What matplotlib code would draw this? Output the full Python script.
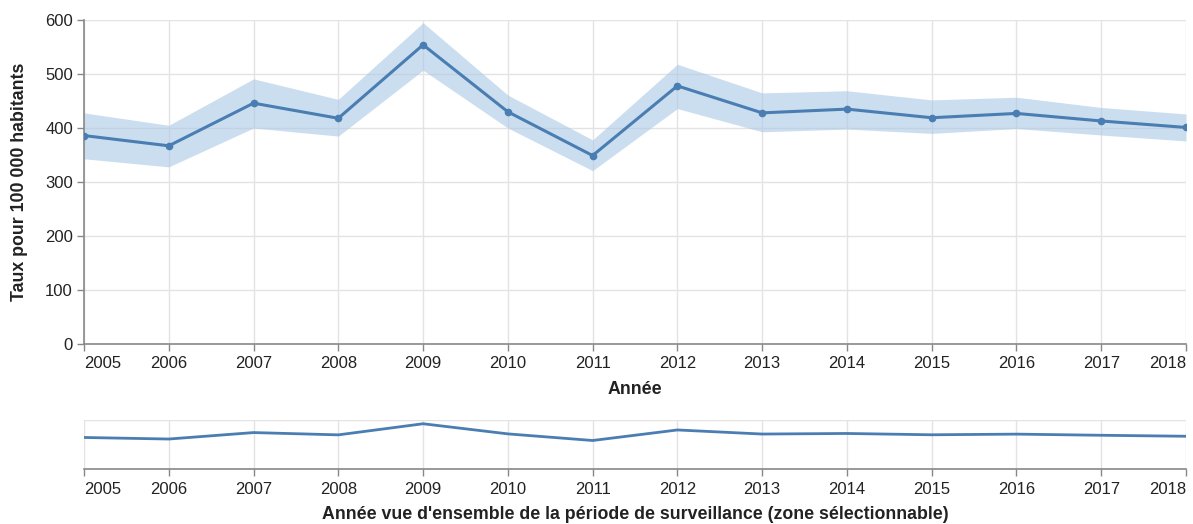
import matplotlib
matplotlib.use("Agg")
import matplotlib.pyplot as plt

plt.rcParams['font.family'] = ['Liberation Sans', 'DejaVu Sans']

years = [2005, 2006, 2007, 2008, 2009, 2010, 2011, 2012, 2013, 2014, 2015, 2016, 2017, 2018]
rate = [386, 367, 446, 418, 554, 430, 349, 478, 428, 435, 419, 427, 413, 401]
ci_low = [343, 328, 400, 385, 507, 400, 321, 436, 393, 398, 390, 399, 387, 376]
ci_high = [428, 405, 491, 453, 595, 461, 378, 518, 465, 469, 452, 457, 438, 426]
y_ticks = [0, 100, 200, 300, 400, 500, 600]

LINE = "#4a7eb2"
BAND = "#a9c8e6"
GRID = "#e3e3e3"
AXIS = "#888888"
TXT = "#222222"
TICK_FS = 12
LABEL_FS = 12.8

W, H = 1193, 524
fig = plt.figure(figsize=(W / 100, H / 100), dpi=100)

def frac(x0, y0, x1, y1):
    return [x0 / W, 1 - y1 / H, (x1 - x0) / W, (y1 - y0) / H]

def style_x(ax):
    ax.set_xlim(years[0], years[-1])
    ax.set_xticks(years)
    labels = ax.set_xticklabels([str(y) for y in years], fontsize=TICK_FS, color=TXT)
    labels[0].set_ha('left')
    labels[-1].set_ha('right')
    ax.tick_params(axis='x', length=5, width=1, color=AXIS, pad=4)
    ax.grid(axis='x', color=GRID, linewidth=1)
    ax.set_axisbelow(True)

# Main chart
ax = fig.add_axes(frac(84, 20, 1186, 344))
ax.fill_between(years, ci_low, ci_high, color=BAND, alpha=0.6, linewidth=0, zorder=1)
ax.plot(years, rate, color=LINE, linewidth=2.2, marker='o', markersize=4.5, zorder=3)
ax.set_ylim(0, 600)
ax.set_yticks(y_ticks)
ax.set_yticklabels([str(v) for v in y_ticks], fontsize=TICK_FS, color=TXT)
ax.tick_params(axis='y', length=5, width=1, color=AXIS, pad=3)
ax.grid(axis='y', color=GRID, linewidth=1)
style_x(ax)
for s in ['top', 'right']:
    ax.spines[s].set_visible(False)
for s in ['left', 'bottom']:
    ax.spines[s].set_color(AXIS)
    ax.spines[s].set_linewidth(1.2)
ax.set_xlabel("Année", fontsize=LABEL_FS, fontweight='bold', color=TXT, labelpad=7)
ax.set_ylabel("Taux pour 100 000 habitants", fontsize=LABEL_FS, fontweight='bold', color=TXT, labelpad=12)

# Overview strip
ov = fig.add_axes(frac(84, 420, 1186, 469))
ov.plot(years, rate, color=LINE, linewidth=2.0)
ov.set_ylim(0, 600)
ov.set_yticks([600])
ov.set_yticklabels([])
ov.tick_params(axis='y', length=0)
ov.grid(axis='y', color=GRID, linewidth=1)
style_x(ov)
for s in ['top', 'right', 'left']:
    ov.spines[s].set_visible(False)
ov.spines['bottom'].set_color(AXIS)
ov.spines['bottom'].set_linewidth(1.2)
ov.set_xlabel("Année vue d'ensemble de la période de surveillance (zone sélectionnable)",
              fontsize=LABEL_FS, fontweight='bold', color=TXT, labelpad=7)

fig.savefig("out.png", dpi=100, facecolor="white")
